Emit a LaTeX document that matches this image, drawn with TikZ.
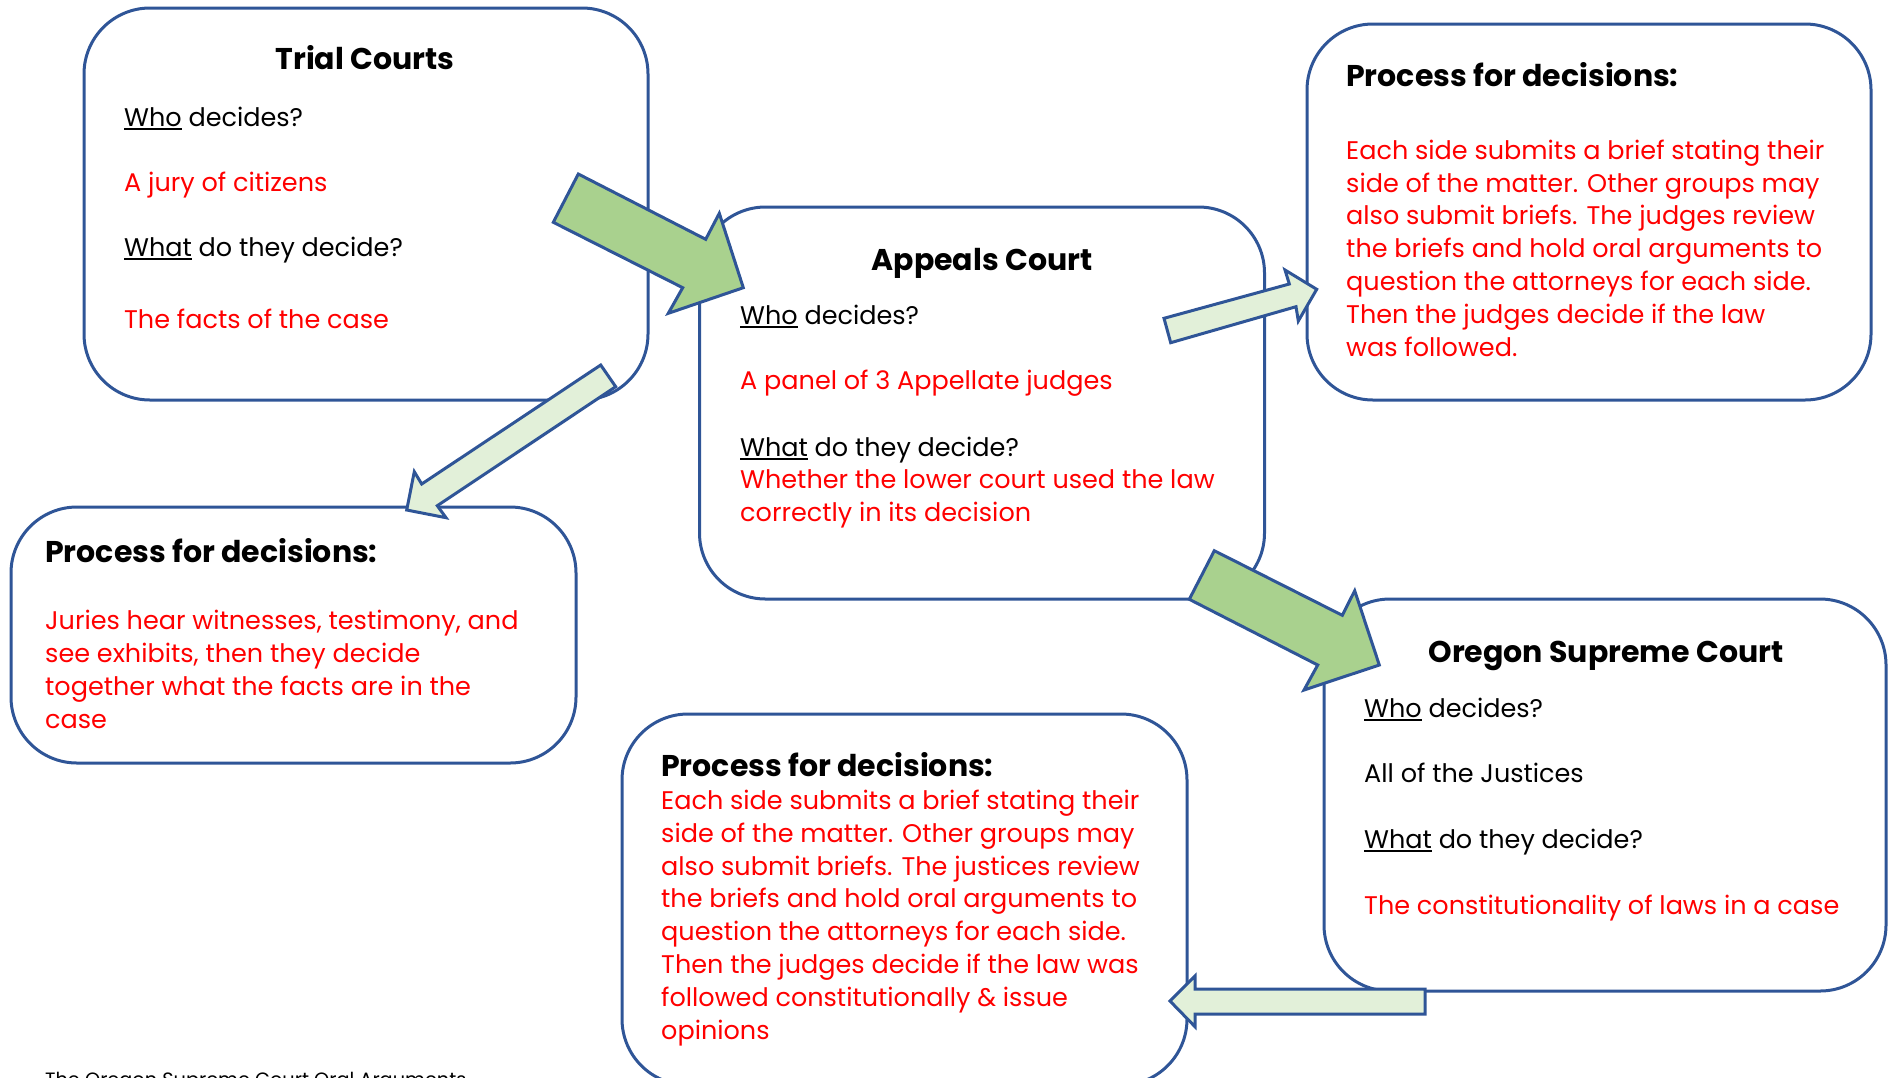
\documentclass[tikz,border=0pt]{standalone}
\usepackage{fontspec}
\setmainfont{Poppins}
\definecolor{boxblue}{RGB}{47,85,151}
\definecolor{darkgreen}{RGB}{169,209,142}
\definecolor{lightgreen}{RGB}{226,240,217}
\newcommand{\ulword}[1]{\setbox0\hbox{#1}\rlap{\rule[-4pt]{\wd0}{2pt}}\box0{}}
\tikzset{
	courtbox/.style={draw=boxblue,line width=3pt,rounded corners=66pt,inner sep=0},
	blockarrow/.style={draw=boxblue,line width=3pt,line join=miter},
	title/.style={font=\fontsize{30}{35}\selectfont\bfseries,inner sep=0,anchor=base},
	plain/.style={font=\fontsize{25.5}{32.8}\selectfont,inner sep=0,anchor=base west,align=left},
	answer/.style={plain,text=red},
}
\begin{document}
\begin{tikzpicture}[x=1pt,y=-1pt,line join=round]
	\useasboundingbox (0,0) rectangle (1889,1077);
	\clip (0,0) rectangle (1889,1077);
	\node[courtbox,minimum width=564,minimum height=392] (trial) at (366,204) {};
	\node[courtbox,minimum width=565,minimum height=256] (trialproc) at (293.5,635) {};
	\node[courtbox,minimum width=565,minimum height=392] (appeals) at (982,403) {};
	\node[courtbox,minimum width=564,minimum height=376] (appealsproc) at (1589,212) {};
	\node[courtbox,minimum width=562,minimum height=392] (oregon) at (1605,795) {};
	\node[courtbox,minimum width=565,minimum height=371] (oregonproc) at (904.5,899.5) {};
	\node[title] (trial-t) at (365,69) {Trial Courts};
	\node[plain] (trial-who) at (124,126) {\ulword{Who} decides?};
	\node[answer] (trial-a1) at (124,191) {A jury of citizens};
	\node[plain] (trial-what) at (124,256) {\ulword{What} do they decide?};
	\node[answer] (trial-a2) at (124,328) {The facts of the case};
	\node[title,anchor=base west] (trialproc-t) at (45,562) {Process for decisions:};
	\node[answer] (trialproc-a) at (45,728) {Juries hear witnesses, testimony, and\\see exhibits, then they decide\\together what the facts are in the\\case};
	\node[title] (appeals-t) at (982,270) {Appeals Court};
	\node[plain] (appeals-who) at (740,324) {\ulword{Who} decides?};
	\node[answer] (appeals-a1) at (740,389) {A panel of 3 Appellate judges};
	\node[plain] (appeals-what) at (740,456) {\ulword{What} do they decide?};
	\node[answer] (appeals-a2) at (740,521) {Whether the lower court used the law\\correctly in its decision};
	\node[title,anchor=base west] (appealsproc-t) at (1346,86) {Process for decisions:};
	\node[answer] (appealsproc-a) at (1346,356) {Each side submits a brief stating their\\side of the matter. Other groups may\\also submit briefs. The judges review\\the briefs and hold oral arguments to\\question the attorneys for each side.\\Then the judges decide if the law\\was followed.};
	\node[title] (oregon-t) at (1606,662) {Oregon Supreme Court};
	\node[plain] (oregon-who) at (1364,717) {\ulword{Who} decides?};
	\node[plain] (oregon-a1) at (1364,782) {All of the Justices};
	\node[plain] (oregon-what) at (1364,848) {\ulword{What} do they decide?};
	\node[answer] (oregon-a2) at (1364,914) {The constitutionality of laws in a case};
	\node[title,anchor=base west] (oregonproc-t) at (661,776) {Process for decisions:};
	\node[answer] (oregonproc-a) at (661,1039) {Each side submits a brief stating their\\side of the matter. Other groups may\\also submit briefs. The justices review\\the briefs and hold oral arguments to\\question the attorneys for each side.\\Then the judges decide if the law was\\followed constitutionally \& issue\\opinions};
	\node[plain,font=\fontsize{19.3}{24}\selectfont] (footer) at (45,1086) {The Oregon Supreme Court Oral Arguments};
	\draw[blockarrow,fill=darkgreen] (578.3,174) -- (705.7,239.3) -- (719.3,213.3) -- (743.3,287.7) -- (668.3,313.3) -- (682.7,287.7) -- (553.3,222.3) -- cycle;
	\draw[blockarrow,fill=darkgreen] (1214.3,550.7) -- (1342.3,615.3) -- (1354.7,590.7) -- (1379.3,665) -- (1304,690) -- (1317.7,665) -- (1189.3,599.3) -- cycle;
	\draw[blockarrow,fill=lightgreen] (1164,318.3) -- (1289.3,284) -- (1285,270) -- (1316.7,289.3) -- (1298.3,321) -- (1296,306.7) -- (1170.7,342.7) -- cycle;
	\draw[blockarrow,fill=lightgreen] (600.7,365) -- (421.7,484) -- (414.3,471.7) -- (406.7,510) -- (446,517.7) -- (437.3,505.7) -- (615.7,386.7) -- cycle;
	\draw[blockarrow,fill=lightgreen] (1425,989) -- (1195,989) -- (1195,976) -- (1170,1001) -- (1195,1026.7) -- (1195,1014) -- (1425,1014) -- cycle;
\end{tikzpicture}
\end{document}
